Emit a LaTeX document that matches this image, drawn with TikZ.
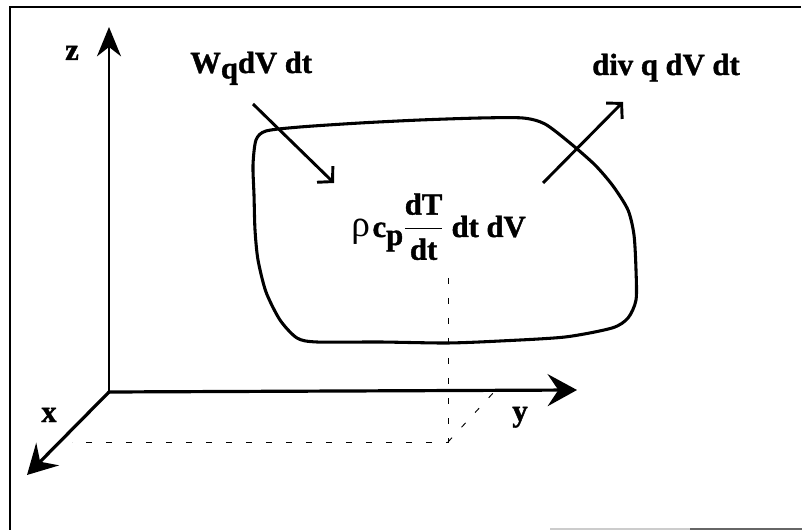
\documentclass[tikz,border=0pt]{standalone}
\usepackage{fontspec}
\setmainfont{Liberation Serif}
\newfontfamily\heavyfont{Liberation Serif Bold}[FakeBold=1.3]
\usetikzlibrary{arrows.meta}
\begin{document}
\begin{tikzpicture}[x=0.75pt,y=-0.75pt,
  lbl/.style={font=\fontsize{23}{27}\heavyfont, inner sep=0pt},
  zaxis/.style={line width=1.8pt, -{Stealth[length=22pt,width=18pt,inset=7pt]}},
  axis/.style={line width=2.4pt, -{Stealth[length=22pt,width=24pt,inset=8pt]}},
  flux/.style={line width=2.2pt, -{Straight Barb[length=8pt,width=17pt]}},
  guide/.style={line width=0.7pt, dash pattern=on 4.5pt off 10.5pt},
  frameline/.style={line width=1.6pt},
  blob/.style={line width=2.3pt, line join=round}]
\useasboundingbox (0,0) rectangle (802,530);
% frame
\coordinate (f1) at (10,530);
\coordinate (f2) at (10,7);
\coordinate (f3) at (801,7);
\draw[frameline] (f1) -- (f2) -- (f3);
\draw[gray!40, line width=1pt] (550,529) -- (690,529);
\draw[gray!80!black, line width=1.5pt] (690,529) -- (802,529);
% control volume
\draw[blob] plot[smooth cycle, tension=0.45] coordinates {
 (256,140) (266,131) (300,127) (360,123) (420,120) (480,118) (523,118)
 (545,124) (570,143) (595,165) (613,186) (628,210) (634,235) (636,270)
 (636,300) (628,318) (612,328) (565,337) (500,341) (447,343) (380,342)
 (317,342) (297,338) (280,320) (266,292) (258,260) (255,230) (254,195) (253,165)};
% axes
\coordinate (O) at (109,392);
\coordinate (zt) at (109,27);
\coordinate (yt) at (577,390);
\coordinate (xt) at (27,475);
\draw[zaxis] (O) -- (zt);
\draw[axis] (O) -- (yt);
\draw[axis] (O) -- (xt);
% projection lines
\coordinate (P) at (448,442);
\coordinate (Pup) at (448,278);
\coordinate (Px) at (72,442);
\coordinate (Py) at (494,392);
\draw[guide] (Pup) -- (P) -- (Px);
\draw[guide] (P) -- (Py);
% flux arrows
\coordinate (w1) at (253,104);
\coordinate (w2) at (334,183);
\coordinate (d1) at (543,183);
\coordinate (d2) at (623,102);
\draw[flux] (w1) -- (w2);
\draw[flux] (d1) -- (d2);
% labels
\node[lbl, anchor=base] (zl) at (72,60) {z};
\node[lbl, anchor=base] (xl) at (49,422) {x};
\node[lbl, anchor=base] (yl) at (520,421) {y};
\node[lbl, anchor=base west] (wq) at (190,73) {W\raisebox{-4pt}{q}dV dt};
\node[lbl, anchor=base west] (dq) at (592,75) {div q dV dt};
\node[lbl, anchor=base west] (heat) at (351,237) {{\fontsize{28}{30}\rmfamily\mdseries ρ}\kern2pt c\raisebox{-6pt}{p}$\displaystyle\frac{\hbox{dT}}{\hbox{dt}}$ dt dV};
\end{tikzpicture}
\end{document}
